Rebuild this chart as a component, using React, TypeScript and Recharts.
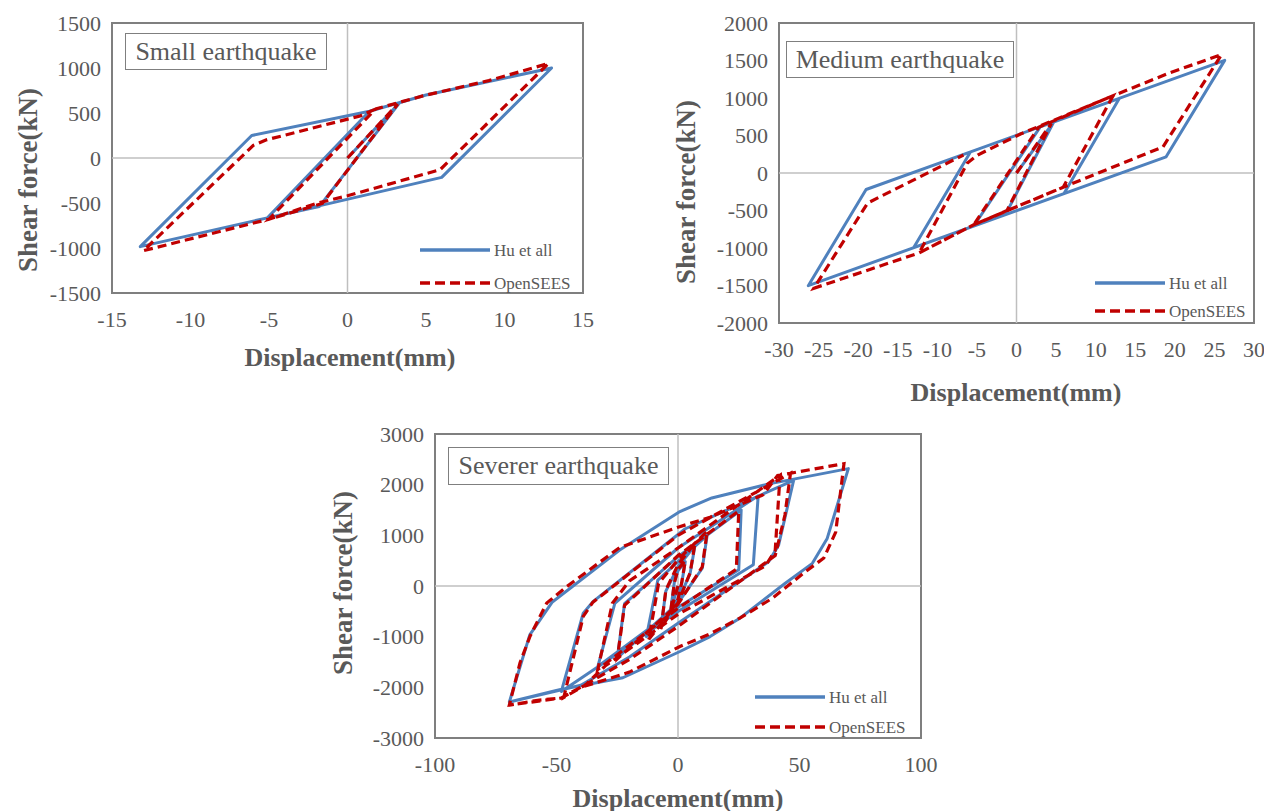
import React from 'react';
import { LineChart, Line, XAxis, YAxis, ReferenceLine, ReferenceArea, Label } from 'recharts';

// ---------- Small earthquake ----------
const SMALL_X_TICKS = [-15, -10, -5, 0, 5, 10, 15];
const SMALL_Y_TICKS = [-1500, -1000, -500, 0, 500, 1000, 1500];
const SMALL_HU: [number, number][] = [
  [0, 0], [3.3, 610], [-1.8, -540], [-5.1, -665], [1.4, 520], [5.0, 700], [13.0, 1000],
  [6.0, -215], [-5.1, -665], [-13.2, -985], [-6.1, 250], [1.4, 520],
];
const SMALL_OPENSEES: [number, number][] = [
  [0, 0], [3.2, 600], [-1.6, -505], [-5.0, -680], [1.8, 545], [4.8, 690], [9.0, 860], [12.8, 1050],
  [5.9, -130], [0, -420], [-2.0, -505], [-5.0, -680], [-13.0, -1030], [-6.0, 140], [-5.2, 200],
  [0.8, 467], [1.8, 545],
];

// ---------- Medium earthquake ----------
const MEDIUM_X_TICKS = [-30, -25, -20, -15, -10, -5, 0, 5, 10, 15, 20, 25, 30];
const MEDIUM_Y_TICKS = [-2000, -1500, -1000, -500, 0, 500, 1000, 1500, 2000];
const MEDIUM_HU: [number, number][] = [
  [0, 0], [4.7, 680], [-1.4, -555], [-5.4, -707], [3.0, 616], [13.0, 996], [6.0, -274],
  [-13.0, -996], [-5.8, 282], [26.3, 1502], [18.9, 216], [-26.3, -1502], [-19.0, -220], [-5.8, 282],
];
const MEDIUM_OPENSEES: [number, number][] = [
  [0, 0], [4.4, 660], [-1.2, -500], [-5.4, -690], [2.8, 610], [12.2, 1030], [5.9, -190], [0, -450],
  [-5.4, -690], [-12.3, -1065], [-6.2, 134], [-4.9, 240], [0.5, 520], [12.2, 1030], [19.4, 1337],
  [25.9, 1578], [18.5, 348], [5.9, -190], [0, -450], [-5.4, -690], [-12.3, -1065], [-25.6, -1537],
  [-18.8, -400], [-6.7, 240],
];

// ---------- Severer earthquake ----------
const SEVERE_X_TICKS = [-100, -50, 0, 50, 100];
const SEVERE_Y_TICKS = [-3000, -2000, -1000, 0, 1000, 2000, 3000];
const SEVERE_HU: [number, number][] = [
  [0, 0], [-3, -480],
  [-1.5, 80], [0, 300], [3, 480],
  [1.5, 50], [0, -250], [-7, -820],
  [-5, -100], [0, 380], [7, 800],
  [5, 250], [0, -300], [-13, -1000],
  [-8.3, 118], [0, 480], [12, 1000],
  [10, 350], [0, -340], [-25, -1420],
  [-22, -350], [0, 580], [26, 1500],
  [25, 320], [0, -420], [-33, -1590],
  [-26, -341], [0, 750], [33, 1780],
  [31, 420], [0, -505], [-30, -1500], [-48, -2081],
  [-39, -538], [-35, -309], [3, 1130], [47.6, 2087],
  [41.4, 807], [37.3, 478], [0, -734], [-20, -1400], [-40, -1960], [-69.4, -2290],
  [-61, -965], [-51.7, -315], [-24, 709], [0.8, 1470], [13.9, 1738], [38, 2021], [70.1, 2317],
  [61.4, 939], [55.3, 447], [44, 50], [25.6, -630], [13.2, -998], [0.8, -1293], [-22.7, -1811],
  [-48.8, -2047], [-69.4, -2290],
];
const SEVERE_OPENSEES: [number, number][] = [
  [0, 0], [-3, -500],
  [-1.5, 60], [0, 330], [3, 500],
  [1.5, 60], [0, -260], [-7, -850],
  [-5, -80], [0, 420], [7, 850],
  [5, 260], [0, -330], [-12, -1050],
  [-8, 50], [0, 520], [12, 1080],
  [10, 380], [0, -360], [-25, -1440],
  [-22, -380], [0, 600], [25, 1480],
  [24, 330], [0, -440], [-33, -1650],
  [-27, -340], [-20, 100], [0, 750], [42, 2185],
  [40, 700], [36, 400], [0, -560], [-30, -1580], [-38, -1950], [-47, -2200],
  [-39, -600], [-35, -320], [0, 1000], [46.3, 2225],
  [44, 1400], [40, 600], [0, -800], [-20, -1450], [-40.5, -2010], [-48, -2210], [-57, -2250], [-69.4, -2350],
  [-65, -1515], [-61, -1004], [-54, -335], [-46, -20], [-24, 760], [0, 1160], [13.2, 1358], [35, 1800],
  [41, 2180], [68.3, 2415],
  [64.9, 1063], [60, 551], [51.7, 256], [39, -236], [25.6, -630], [13, -950], [0.8, -1194],
  [-20, -1700], [-40.5, -2010], [-48, -2210], [-69.4, -2350],
];

const LEGEND_NAMES = ['Hu et all', 'OpenSEES'];
const TITLES = ['Small earthquake', 'Medium earthquake', 'Severer earthquake'];
const X_TITLE = 'Displacement(mm)';
const Y_TITLE = 'Shear force(kN)';

const BLUE = '#4f81bd';
const RED = '#c00000';
const GRAY_TEXT = '#595959';
const FONT = '"Liberation Serif", "Times New Roman", Times, serif';

const toPts = (a: [number, number][]) => a.map(([x, y]) => ({ x, y }));

type ChartProps = {
  left: number; top: number; width: number; height: number;
  margin: { top: number; right: number; bottom: number; left: number };
  yAxisWidth: number;
  xDomain: [number, number]; xTicks: number[];
  yDomain: [number, number]; yTicks: number[];
  hu: [number, number][]; os: [number, number][];
  xTitle: { x: number; y: number };
  yTitle: { x: number; y: number };
};

function Panel(p: ChartProps) {
  const xTitleStyle = { fontFamily: FONT, fontWeight: 700, fontSize: 26, fill: GRAY_TEXT } as const;
  const yTitleStyle = { fontFamily: FONT, fontWeight: 700, fontSize: 27, fill: GRAY_TEXT } as const;
  return (
    <div style={{ position: 'absolute', left: p.left, top: p.top, width: p.width, height: p.height }}>
      <LineChart width={p.width} height={p.height} margin={p.margin}>
        <XAxis
          type="number" dataKey="x" domain={p.xDomain} ticks={p.xTicks} interval={0}
          allowDataOverflow tickLine={false} axisLine={false} height={30} tickMargin={12}
          tick={{ fill: GRAY_TEXT, fontSize: 22, fontFamily: FONT }}
        >
          <Label
            content={() => (
              <text x={p.xTitle.x} y={p.xTitle.y} textAnchor="middle" dominantBaseline="central" style={xTitleStyle}>
                {X_TITLE}
              </text>
            )}
          />
        </XAxis>
        <YAxis
          type="number" dataKey="y" domain={p.yDomain} ticks={p.yTicks} interval={0}
          allowDataOverflow tickLine={false} axisLine={false} width={p.yAxisWidth} tickMargin={5}
          tick={{ fill: GRAY_TEXT, fontSize: 22, fontFamily: FONT }}
        >
          <Label
            content={() => (
              <text
                x={p.yTitle.x} y={p.yTitle.y} textAnchor="middle" dominantBaseline="central"
                transform={`rotate(-90 ${p.yTitle.x} ${p.yTitle.y})`} style={yTitleStyle}
              >
                {Y_TITLE}
              </text>
            )}
          />
        </YAxis>
        <ReferenceLine x={0} stroke="#bfbfbf" strokeWidth={1.5} />
        <ReferenceLine y={0} stroke="#bfbfbf" strokeWidth={1.5} />
        <ReferenceArea
          x1={p.xDomain[0]} x2={p.xDomain[1]} y1={p.yDomain[0]} y2={p.yDomain[1]}
          fill="none" fillOpacity={0} stroke="#7f7f7f" strokeWidth={2}
        />
        <Line
          data={toPts(p.hu)} dataKey="y" type="linear" stroke={BLUE} strokeWidth={3}
          dot={false} activeDot={false} isAnimationActive={false} strokeLinejoin="round"
        />
        <Line
          data={toPts(p.os)} dataKey="y" type="linear" stroke={RED} strokeWidth={3.2}
          strokeDasharray="9 5" dot={false} activeDot={false} isAnimationActive={false}
        />
      </LineChart>
    </div>
  );
}

function TitleBox({ left, top, width, height, text }: { left: number; top: number; width: number; height: number; text: string }) {
  return (
    <div
      style={{
        position: 'absolute', left, top, width, height, boxSizing: 'border-box',
        border: '1.5px solid #7f7f7f', background: '#fff', color: GRAY_TEXT,
        fontFamily: FONT, fontSize: 26, display: 'flex', alignItems: 'center', justifyContent: 'center',
        whiteSpace: 'nowrap',
      }}
    >
      {text}
    </div>
  );
}

function LegendBox({ left, top, gap }: { left: number; top: number; gap: number }) {
  return (
    <div style={{ position: 'absolute', left, top, width: 170, height: gap + 20 }}>
      <svg width={170} height={gap + 20}>
        <line x1={0} y1={10} x2={70} y2={10} stroke={BLUE} strokeWidth={3.5} />
        <text x={74} y={10} dominantBaseline="central" fontFamily={FONT} fontSize={17} fill={GRAY_TEXT}>
          {LEGEND_NAMES[0]}
        </text>
        <line x1={0} y1={10 + gap} x2={70} y2={10 + gap} stroke={RED} strokeWidth={3.5} strokeDasharray="10 5" />
        <text x={74} y={10 + gap} dominantBaseline="central" fontFamily={FONT} fontSize={17} fill={GRAY_TEXT}>
          {LEGEND_NAMES[1]}
        </text>
      </svg>
    </div>
  );
}

export default function App() {
  return (
    <div style={{ position: 'absolute', left: 0, top: 0, width: 1264, height: 811, background: '#fff', overflow: 'hidden' }}>
      <Panel
        left={0} top={0} width={600} height={380}
        margin={{ top: 23, right: 17, bottom: 57, left: 8 }} yAxisWidth={104}
        xDomain={[-15, 15]} xTicks={SMALL_X_TICKS} yDomain={[-1500, 1500]} yTicks={SMALL_Y_TICKS}
        hu={SMALL_HU} os={SMALL_OPENSEES}
        xTitle={{ x: 350, y: 357 }} yTitle={{ x: 28, y: 180 }}
      />
      <Panel
        left={660} top={0} width={604} height={410}
        margin={{ top: 23, right: 10, bottom: 57, left: 8 }} yAxisWidth={111}
        xDomain={[-30, 30]} xTicks={MEDIUM_X_TICKS} yDomain={[-2000, 2000]} yTicks={MEDIUM_Y_TICKS}
        hu={MEDIUM_HU} os={MEDIUM_OPENSEES}
        xTitle={{ x: 356, y: 392 }} yTitle={{ x: 26, y: 192 }}
      />
      <Panel
        left={320} top={410} width={620} height={401}
        margin={{ top: 24, right: 19, bottom: 43, left: 8 }} yAxisWidth={107}
        xDomain={[-100, 100]} xTicks={SEVERE_X_TICKS} yDomain={[-3000, 3000]} yTicks={SEVERE_Y_TICKS}
        hu={SEVERE_HU} os={SEVERE_OPENSEES}
        xTitle={{ x: 358, y: 388 }} yTitle={{ x: 23, y: 173 }}
      />
      <TitleBox left={125} top={33} width={202} height={37} text={TITLES[0]} />
      <TitleBox left={786} top={41} width={228} height={37} text={TITLES[1]} />
      <TitleBox left={448} top={447} width={221} height={38} text={TITLES[2]} />
      <LegendBox left={420} top={240} gap={33} />
      <LegendBox left={1095} top={273} gap={28} />
      <LegendBox left={755} top={687} gap={30} />
    </div>
  );
}
